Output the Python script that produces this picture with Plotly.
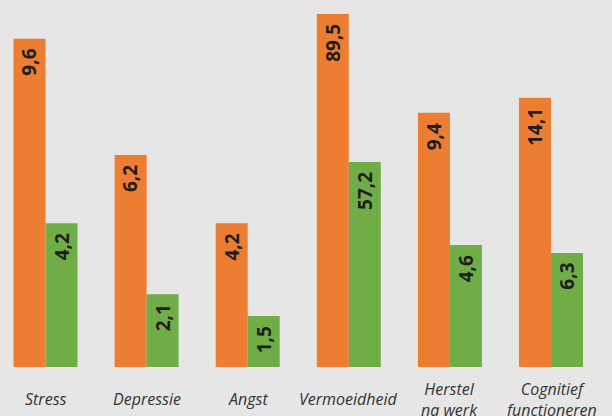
import plotly.graph_objects as go

# ---- data ----
categories = ["Stress", "Depressie", "Angst", "Vermoeidheid", "Herstel<br>na werk", "Cognitief<br>functioneren"]
values_orange = [9.6, 6.2, 4.2, 89.5, 9.4, 14.1]
values_green = [4.2, 2.1, 1.5, 57.2, 4.6, 6.3]
# displayed bar heights (infographic is not to a single scale)
height_orange = [9.6, 6.2, 4.2, 10.32, 7.43, 7.87]
height_green = [4.2, 2.13, 1.49, 5.99, 3.57, 3.33]

ORANGE = "#ED7D31"
GREEN = "#70AD47"
BG = "#E6E6E6"
FONT = "Open Sans, Noto Sans, sans-serif"


def fmt(v):
    return f"{v:.1f}".replace(".", ",")


fig = go.Figure()
fig.add_trace(go.Bar(x=categories, y=height_orange, marker=dict(color=ORANGE, line=dict(width=0)),
                     hoverinfo="skip"))
fig.add_trace(go.Bar(x=categories, y=height_green, marker=dict(color=GREEN, line=dict(width=0)),
                     hoverinfo="skip"))

annotations = []
for cat, h, v in zip(categories, height_orange, values_orange):
    annotations.append(dict(x=cat, y=h, xref="x", yref="y", text=f"<b>{fmt(v)}</b>", textangle=-90,
                            xanchor="center", yanchor="top", xshift=-16, yshift=-8, showarrow=False,
                            font=dict(family=FONT, size=19, color="#1E1E1E")))
for cat, h, v in zip(categories, height_green, values_green):
    annotations.append(dict(x=cat, y=h, xref="x", yref="y", text=f"<b>{fmt(v)}</b>", textangle=-90,
                            xanchor="center", yanchor="top", xshift=16, yshift=-8, showarrow=False,
                            font=dict(family=FONT, size=19, color="#1E1E1E")))
for cat in categories:
    annotations.append(dict(x=cat, y=0, xref="x", yref="paper", text=cat, showarrow=False,
                            xanchor="center", yanchor="middle", yshift=-32,
                            font=dict(family=FONT, size=16, color="#333333", style="italic")))

fig.update_layout(
    width=612, height=416,
    margin=dict(l=0, r=0, t=0, b=49),
    paper_bgcolor=BG, plot_bgcolor=BG,
    barmode="group", bargap=0.367, bargroupgap=0,
    showlegend=False,
    xaxis=dict(range=[-0.45, 5.603], showticklabels=False, showgrid=False, zeroline=False,
               showline=False, ticks=""),
    yaxis=dict(range=[0, 10.73], visible=False, showgrid=False, zeroline=False),
    annotations=annotations,
)

fig.write_html("out.html", config={"displayModeBar": False},
               post_script="document.body.style.margin='0px';document.body.style.overflow='hidden';")
